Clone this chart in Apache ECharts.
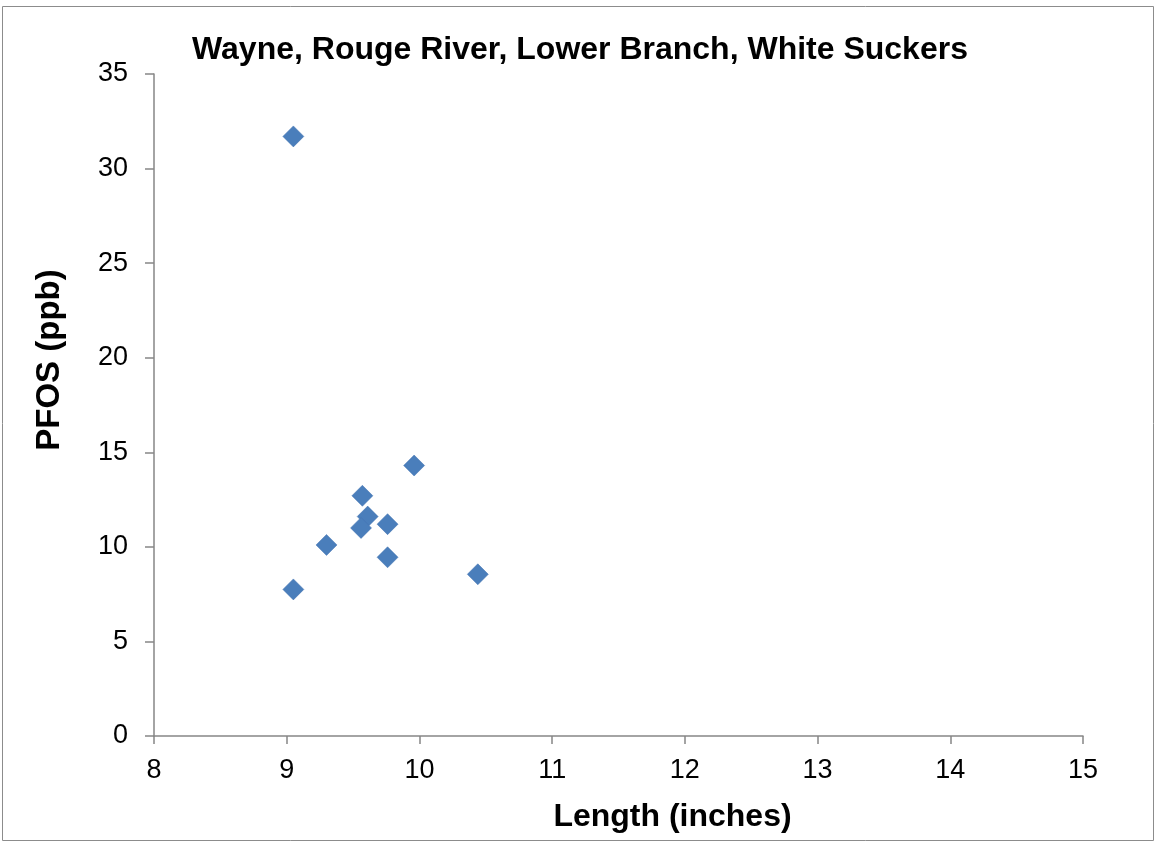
<!DOCTYPE html>
<html>
<head>
<meta charset="utf-8">
<script src="https://cdn.jsdelivr.net/npm/echarts@6/dist/echarts.min.js"></script>
<style>
  html, body { margin: 0; padding: 0; background: #fff; }
  #chart { width: 1156px; height: 842px; }
</style>
</head>
<body>
<div id="chart"></div>
<script>
// fish length (inches) vs PFOS (ppb)
var lengths = [9.05, 9.05, 9.30, 9.57, 9.61, 9.56, 9.76, 9.76, 9.96, 10.44];
var pfos = [31.7, 7.75, 10.1, 12.7, 11.6, 11.0, 11.2, 9.45, 14.3, 8.55];

var points = [];
for (var i = 0; i < lengths.length; i++) {
    points.push([lengths[i], pfos[i]]);
}

var font = 'Liberation Sans, Arial, sans-serif';
var axisGray = '#868686';

var myChart = echarts.init(document.getElementById('chart'));
var options = {
    animation: false,
    title: {
        text: 'Wayne, Rouge River, Lower Branch, White Suckers',
        left: 575,
        top: 29,
        textAlign: 'center',
        textStyle: { fontFamily: font, fontSize: 32, fontWeight: 'bold', color: '#000' }
    },
    graphic: [{
        type: 'rect',
        shape: { x: 2.5, y: 6.5, width: 1151, height: 834 },
        style: { fill: 'none', stroke: '#8c8c8c', lineWidth: 1 },
        silent: true
    }],
    grid: { left: 154, right: 73, top: 74, bottom: 106 },
    xAxis: {
        type: 'value',
        min: 8, max: 15, interval: 1,
        name: 'Length (inches)',
        nameLocation: 'middle',
        nameGap: 65,
        nameTextStyle: { fontFamily: font, fontSize: 32, fontWeight: 'bold', color: '#000', padding: [0, 0, 0, 108] },
        axisLine: { onZero: false, lineStyle: { color: axisGray, width: 1.5 } },
        axisTick: { show: true, length: 8, lineStyle: { color: axisGray, width: 1.5 } },
        axisLabel: { fontFamily: font, fontSize: 27, color: '#000', margin: 21 },
        splitLine: { show: false }
    },
    yAxis: {
        type: 'value',
        min: 0, max: 35, interval: 5,
        name: 'PFOS (ppb)',
        nameLocation: 'middle',
        nameGap: 88,
        nameRotate: 90,
        nameTextStyle: { fontFamily: font, fontSize: 33, fontWeight: 'bold', color: '#000', padding: [0, 0, 0, 90] },
        axisLine: { show: true, lineStyle: { color: axisGray, width: 1.5 } },
        axisTick: { show: true, length: 9, lineStyle: { color: axisGray, width: 1.5 } },
        axisLabel: { fontFamily: font, fontSize: 27, color: '#000', margin: 26 },
        splitLine: { show: false }
    },
    series: [{
        type: 'scatter',
        symbol: 'diamond',
        symbolSize: 21,
        itemStyle: { color: '#4a7ebb', borderColor: '#4272b0', borderWidth: 0.5, opacity: 1 },
        data: points
    }]
};
myChart.setOption(options);
</script>
</body>
</html>
